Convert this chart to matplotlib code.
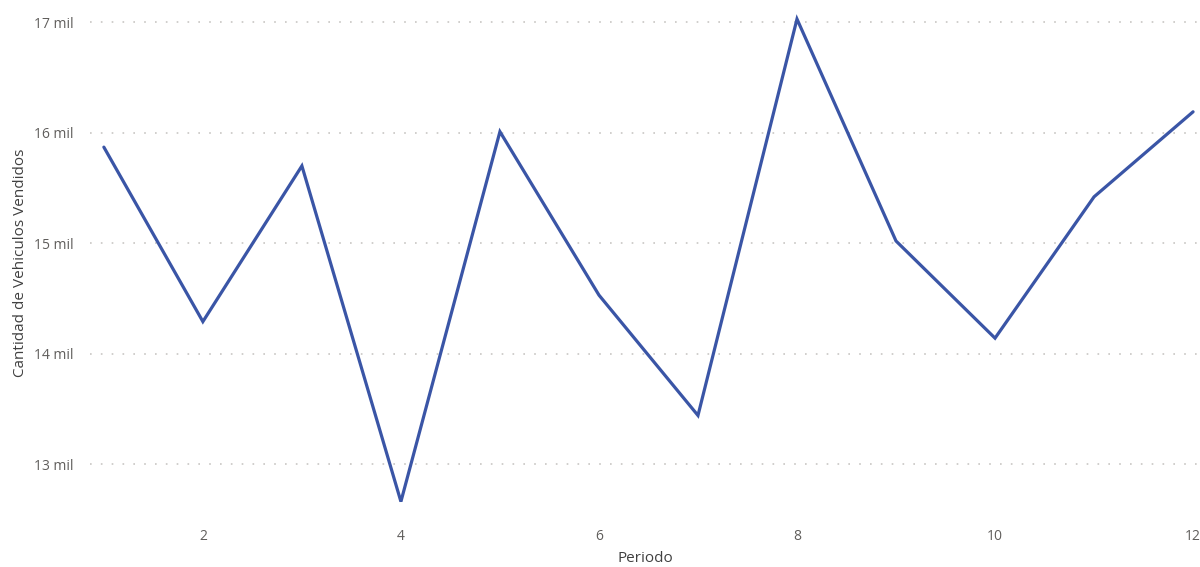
import matplotlib.pyplot as plt
from matplotlib.ticker import FuncFormatter

# Vehicles sold per period
periodos = [1, 2, 3, 4, 5, 6, 7, 8, 9, 10, 11, 12]
vendidos = [15870, 14290, 15700, 12660, 16010, 14530, 13440, 17030, 15020, 14140, 15420, 16190]

x_ticks = [2, 4, 6, 8, 10, 12]
y_ticks = [13000, 14000, 15000, 16000, 17000]

line_color = '#3A55A6'
text_color = '#605E5C'
grid_color = '#C8C6C4'

plt.rcParams['font.family'] = ['Open Sans', 'DejaVu Sans']

fig = plt.figure(figsize=(12, 5.67), dpi=100)
ax = fig.add_axes([0.075, 0.092, 0.925, 0.89])

ax.plot(periodos, vendidos, color=line_color, linewidth=2.3,
        solid_joinstyle='miter', solid_capstyle='round', zorder=3)

ax.set_xlim(0.86, 12.07)
ax.set_ylim(12540, 17110)

ax.set_xticks(x_ticks)
ax.set_yticks(y_ticks)
ax.yaxis.set_major_formatter(FuncFormatter(lambda v, _: f'{v / 1000:.0f} mil'))

ax.grid(axis='y', color=grid_color, linestyle=(0, (1, 5.5)), linewidth=1.2)
ax.grid(axis='x', visible=False)

for spine in ax.spines.values():
    spine.set_visible(False)
ax.tick_params(length=0, colors=text_color, labelsize=10)
ax.tick_params(axis='y', pad=12)
ax.tick_params(axis='x', pad=10)

ax.set_xlabel('Periodo', color='#404040', fontsize=11, labelpad=5)
ax.set_ylabel('Cantidad de Vehiculos Vendidos', color='#404040', fontsize=11, labelpad=4)

fig.savefig('out.png', dpi=100, facecolor='white')
